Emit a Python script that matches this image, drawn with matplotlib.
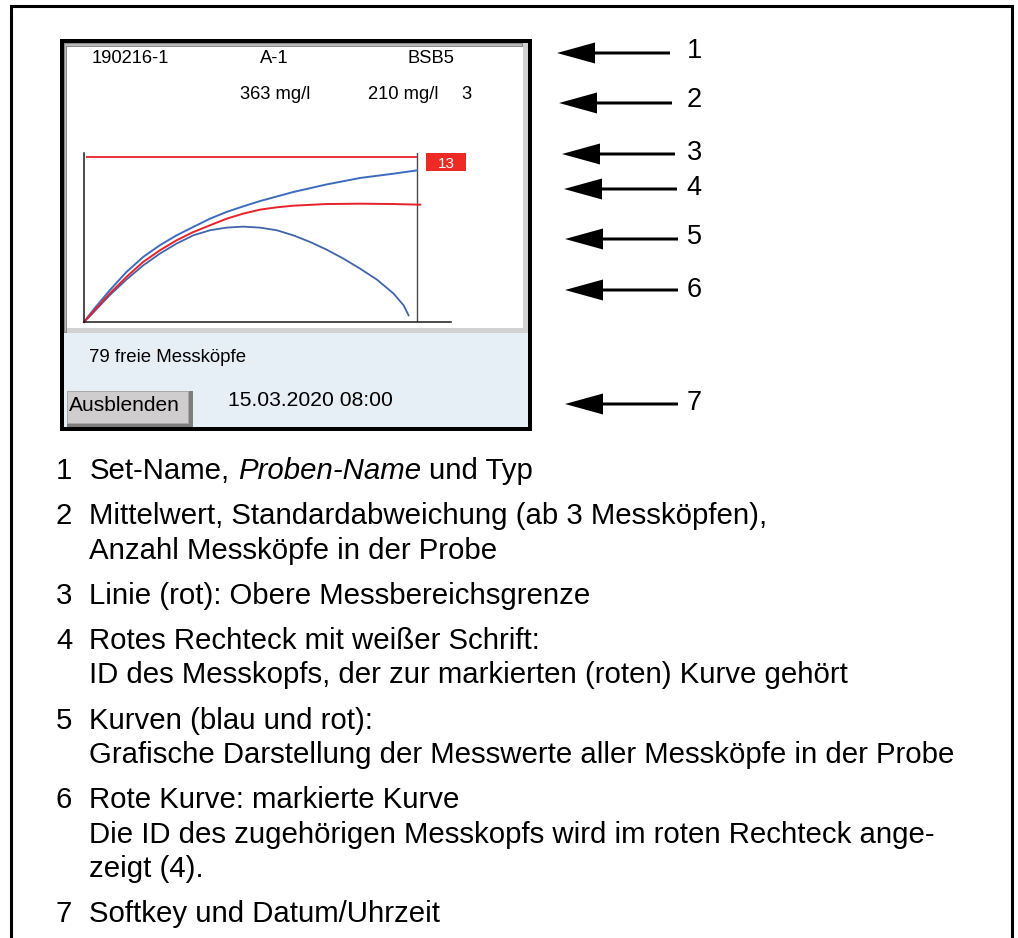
import matplotlib

matplotlib.use("Agg")
import matplotlib.pyplot as plt
from matplotlib.patches import Rectangle

plt.rcParams["font.family"] = ["Liberation Sans", "DejaVu Sans"]

W, H = 1018, 938

# screen texts
set_name = "190216-1"
sample_name = "A-1"
sample_type = "BSB5"
mean_value = "363 mg/l"
std_value = "210 mg/l"
head_count = "3"
free_heads = "79 freie Messköpfe"
softkey = "Ausblenden"
timestamp = "15.03.2020 08:00"
marked_id = "13"

# curves, x in days, y in % of the upper range limit
upper_days = [0, 0.135, 0.386, 0.637, 0.888, 1.138, 1.389, 1.640, 1.891, 2.141,
              2.392, 2.643, 3.144, 3.646, 4.147, 4.649, 5.0]
upper_vals = [0, 7.1, 19.2, 30.3, 39.4, 46.5, 52.5, 57.6, 62.6, 66.7,
              70.1, 73.3, 78.8, 83.4, 87.3, 89.9, 91.9]
marked_days = [0, 0.135, 0.386, 0.637, 0.888, 1.138, 1.389, 1.640, 1.891, 2.141,
               2.392, 2.643, 2.894, 3.144, 3.646, 4.147, 4.649, 5.05]
marked_vals = [0, 6.1, 17.2, 27.3, 36.4, 43.4, 49.5, 54.5, 58.6, 62.6,
               65.7, 68.1, 69.5, 70.5, 71.5, 71.7, 71.5, 71.1]
lower_days = [0, 0.135, 0.386, 0.637, 0.888, 1.138, 1.389, 1.640, 1.891, 2.141,
              2.392, 2.643, 2.894, 3.144, 3.395, 3.646, 3.896, 4.147, 4.398,
              4.649, 4.799, 4.874]
lower_vals = [0, 5.5, 16.2, 25.7, 34.3, 41.4, 47.5, 52.5, 55.6, 57.2,
              57.8, 57.2, 55.6, 52.5, 48.5, 43.8, 38.4, 32.3, 25.7,
              17.2, 10.1, 4.0]
limit_value = 100
limit_start = 0.03
end_day = 5

callout_labels = ["1", "2", "3", "4", "5", "6", "7"]

legend_items = [
    ["Set-Name, |Proben-Name| und Typ"],
    ["Mittelwert, Standardabweichung (ab 3 Messköpfen),", "Anzahl Messköpfe in der Probe"],
    ["Linie (rot): Obere Messbereichsgrenze"],
    ["Rotes Rechteck mit weißer Schrift:", "ID des Messkopfs, der zur markierten (roten) Kurve gehört"],
    ["Kurven (blau und rot):", "Grafische Darstellung der Messwerte aller Messköpfe in der Probe"],
    ["Rote Kurve: markierte Kurve", "Die ID des zugehörigen Messkopfs wird im roten Rechteck ange-", "zeigt (4)."],
    ["Softkey und Datum/Uhrzeit"],
]

RED = "#e8212a"
BLUE = "#3d6cbf"
BLUE2 = "#4066a9"

fig = plt.figure(figsize=(W / 100, H / 100), dpi=100)
base = fig.add_axes([0, 0, 1, 1])
base.set_xlim(0, W)
base.set_ylim(H, 0)
base.axis("off")


def box(x0, y0, x1, y1, color, z=1):
    base.add_patch(Rectangle((x0, y0), x1 - x0, y1 - y0, facecolor=color, edgecolor="none", zorder=z))


# outer frame (open at the bottom)
base.plot([11, 11, 1012, 1012], [H, 6, 6, H], color="black", lw=2.2, solid_joinstyle="miter", zorder=2)

# device screen
box(60, 39, 532, 431, "black")
box(64, 43, 528, 333, "#d2d2d2")
box(64, 43, 523, 47, "#8a8a8a")
box(64, 43, 67, 333, "#8a8a8a")
box(65, 44, 522, 46, "#b9b9b9")
box(65, 44, 66, 332, "#b9b9b9")
box(67, 47, 523, 328, "white")
box(64, 333, 528, 427, "#e6eef6")

# softkey button
box(67, 391, 193, 427, "#7d7d7d", 2)
box(67, 391, 189, 424, "#a9a9a9", 2)
box(68, 392, 188, 423, "#cfcdcd", 2)

hdr = dict(fontsize=13.2, color="black", va="baseline", ha="left", zorder=5)
base.text(92, 63, set_name, **hdr)
base.text(260, 63, sample_name, **hdr)
base.text(407.5, 63, sample_type, **hdr)
base.text(240, 99, mean_value, **hdr)
base.text(368, 99, std_value, **hdr)
base.text(461, 99, head_count, **hdr)
base.text(89, 362, free_heads, fontsize=13.4, va="baseline", ha="left", zorder=5)
base.text(69, 411, softkey, fontsize=15.1, va="baseline", ha="left", zorder=5)
base.text(228, 406, timestamp, fontsize=15.2, va="baseline", ha="left", zorder=5)

# marked probe ID box
box(426, 153, 466, 171, "#ee2a24", 3)
base.text(446, 167.5, marked_id, fontsize=11, color="white", ha="center", va="baseline", zorder=5)

# curve chart
ax = fig.add_axes([84 / W, 1 - 322 / H, (451 - 84) / W, (322 - 153) / H])
px_day = (417 - 84) / end_day
px_pct = (322 - 157) / limit_value
ax.set_xlim(0, (451 - 84) / px_day)
ax.set_ylim(0, (322 - 153) / px_pct)
ax.patch.set_visible(False)
for side in ("top", "right"):
    ax.spines[side].set_visible(False)
for side in ("left", "bottom"):
    ax.spines[side].set_color("#1a1a1a")
    ax.spines[side].set_linewidth(1.1)
ax.set_xticks([])
ax.set_yticks([])
ax.axvline(end_day, color="#4a4a4a", lw=1.0)
ax.hlines(limit_value, limit_start, end_day, color=RED, lw=1.3)
ax.plot(lower_days, lower_vals, color=BLUE2, lw=1.3, clip_on=False, solid_joinstyle="round")
ax.plot(upper_days, upper_vals, color=BLUE, lw=1.4, clip_on=False, solid_joinstyle="round")
ax.plot(marked_days, marked_vals, color=RED, lw=1.4, clip_on=False, solid_joinstyle="round")

# callout arrows
arrow_tips = [557, 559, 562, 564, 565, 565, 565]
arrow_ends = [670, 672, 675, 677, 678, 678, 678]
arrow_y = [53, 103, 154, 189, 239, 290, 404]
num_base = [58, 107, 160, 195, 244, 297, 410]
for lab, x0, x1, y, yb in zip(callout_labels, arrow_tips, arrow_ends, arrow_y, num_base):
    base.arrow(x1, y, x0 - x1, 0, width=3, head_width=21, head_length=38,
               length_includes_head=True, color="black", lw=0)
    base.text(686.5, yb, lab, fontsize=19.5, va="baseline", ha="left")

# legend list
fs = 21.2
y = 479
for num, lines in zip(callout_labels, legend_items):
    base.text(56, y, num, fontsize=fs, va="baseline", ha="left")
    for line in lines:
        if "|" in line:
            parts = line.split("|")
            t = base.text(89.5, y, parts[0].rstrip(), fontsize=fs, va="baseline", ha="left")
            t = base.annotate(parts[1], xy=(1, 0), xycoords=t, xytext=(5.9, 0),
                              textcoords="offset points", fontsize=fs, style="italic",
                              va="bottom", ha="left")
            base.annotate(parts[2].strip(), xy=(1, 0), xycoords=t, xytext=(5.9, 0),
                          textcoords="offset points", fontsize=fs, va="bottom", ha="left")
        else:
            base.text(89.5, y, line, fontsize=fs, va="baseline", ha="left")
        y += 34.3
    y += 11

fig.savefig("out.png", dpi=100)
